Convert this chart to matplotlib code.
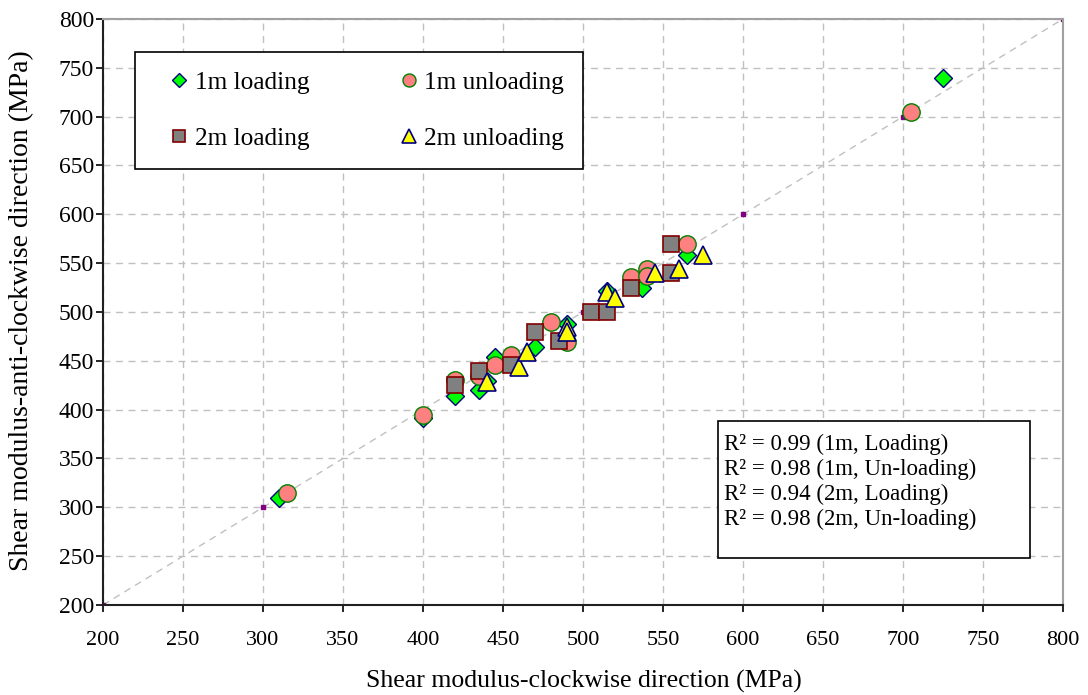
import matplotlib
matplotlib.use("Agg")
import matplotlib.pyplot as plt
from matplotlib.patches import Rectangle

plt.rcParams['font.family'] = ['Liberation Serif', 'DejaVu Serif']

# 1m loading
x_1m_load = [310, 400, 420, 435, 440, 445, 470, 490, 515, 537, 565, 725]
y_1m_load = [310, 391, 414, 420, 429, 454, 464, 488, 521, 525, 558, 740]
# 1m unloading
x_1m_unload = [315, 400, 420, 435, 445, 455, 480, 490, 530, 540, 540, 565, 705]
y_1m_unload = [315, 395, 430, 434, 446, 456, 490, 469, 536, 544, 537, 570, 705]
# 2m loading
x_2m_load = [420, 435, 455, 470, 485, 505, 515, 530, 555, 555]
y_2m_load = [425, 440, 446, 480, 470, 500, 500, 525, 570, 540]
# 2m unloading
x_2m_unload = [440, 460, 465, 490, 490, 515, 520, 545, 560, 575]
y_2m_unload = [428, 444, 459, 485, 479, 520, 514, 540, 544, 558]

one_to_one = [200, 300, 400, 500, 600, 700, 800]
r2_lines = ["R\u00b2 = 0.99 (1m, Loading)",
            "R\u00b2 = 0.98 (1m, Un-loading)",
            "R\u00b2 = 0.94 (2m, Loading)",
            "R\u00b2 = 0.98 (2m, Un-loading)"]

fig = plt.figure(figsize=(10.88, 6.95), dpi=100)
ax = fig.add_axes([0.0947, 0.1295, 0.8823, 0.8432])

ax.plot(one_to_one, one_to_one, ls=(0, (5, 4)), color='#c0c0c0', lw=1,
        marker='s', ms=2.5, mfc='#800080', mec='#800080', zorder=2)

h1, = ax.plot(x_1m_load, y_1m_load, ls='none', marker='D', ms=9.5,
              mfc='#00ff00', mec='#000080', mew=1, zorder=3, label='1m loading')
h2, = ax.plot(x_1m_unload, y_1m_unload, ls='none', marker='o', ms=12.5,
              mfc='#ff8080', mec='#008000', mew=1, zorder=3, label='1m unloading')
h3, = ax.plot(x_2m_load, y_2m_load, ls='none', marker='s', ms=11,
              mfc='#808080', mec='#800000', mew=1.2, zorder=3, label='2m loading')
h4, = ax.plot(x_2m_unload, y_2m_unload, ls='none', marker='^', ms=12.5,
              mfc='#ffff00', mec='#000080', mew=1.2, zorder=3, label='2m unloading')

ax.set_xlim(200, 800)
ax.set_ylim(200, 800)
ax.set_xticks(range(200, 801, 50))
ax.set_yticks(range(200, 801, 50))
ax.grid(True, ls=(0, (5, 4)), color='#c0c0c0', lw=1)
ax.set_axisbelow(True)

for side in ['top', 'right']:
    ax.spines[side].set_color('#a0a0a0')
    ax.spines[side].set_linewidth(1.5)
for side in ['left', 'bottom']:
    ax.spines[side].set_color('#202020')
    ax.spines[side].set_linewidth(1.5)
ax.tick_params(direction='out', length=5, width=1.2, colors='black')
ax.tick_params(axis='x', labelsize=16, pad=14)
ax.tick_params(axis='y', labelsize=17, pad=1.5)

ax.set_xlabel("Shear modulus-clockwise direction (MPa)", fontsize=18.5, va='center')
ax.xaxis.set_label_coords(0.5005, -0.1297)
ax.set_ylabel("Shear modulus-anti-clockwise direction (MPa)", fontsize=20, va='center')
ax.yaxis.set_label_coords(-0.0844, 0.503)

leg = ax.legend(handles=[h1, h3, h2, h4], ncol=2, loc='upper left',
                bbox_to_anchor=(0.0333, 0.749, 0.4667, 0.1947), mode='expand',
                borderaxespad=0, fontsize=18.3, labelspacing=1.3, handletextpad=-0.4,
                handlelength=2.0, borderpad=0.75, fancybox=False, framealpha=1,
                edgecolor='black', markerscale=0.75)
leg.get_frame().set_linewidth(1.2)

ax.add_patch(Rectangle((0.6406, 0.0802), 0.325, 0.2338, transform=ax.transAxes,
                       facecolor='white', edgecolor='black', lw=1.2, zorder=5))
for i, line in enumerate(r2_lines):
    ax.text(0.647, 0.2745 - i * 0.0427, line, transform=ax.transAxes,
            fontsize=16.5, va='center', ha='left', zorder=6)

fig.savefig("out.png", dpi=100)
